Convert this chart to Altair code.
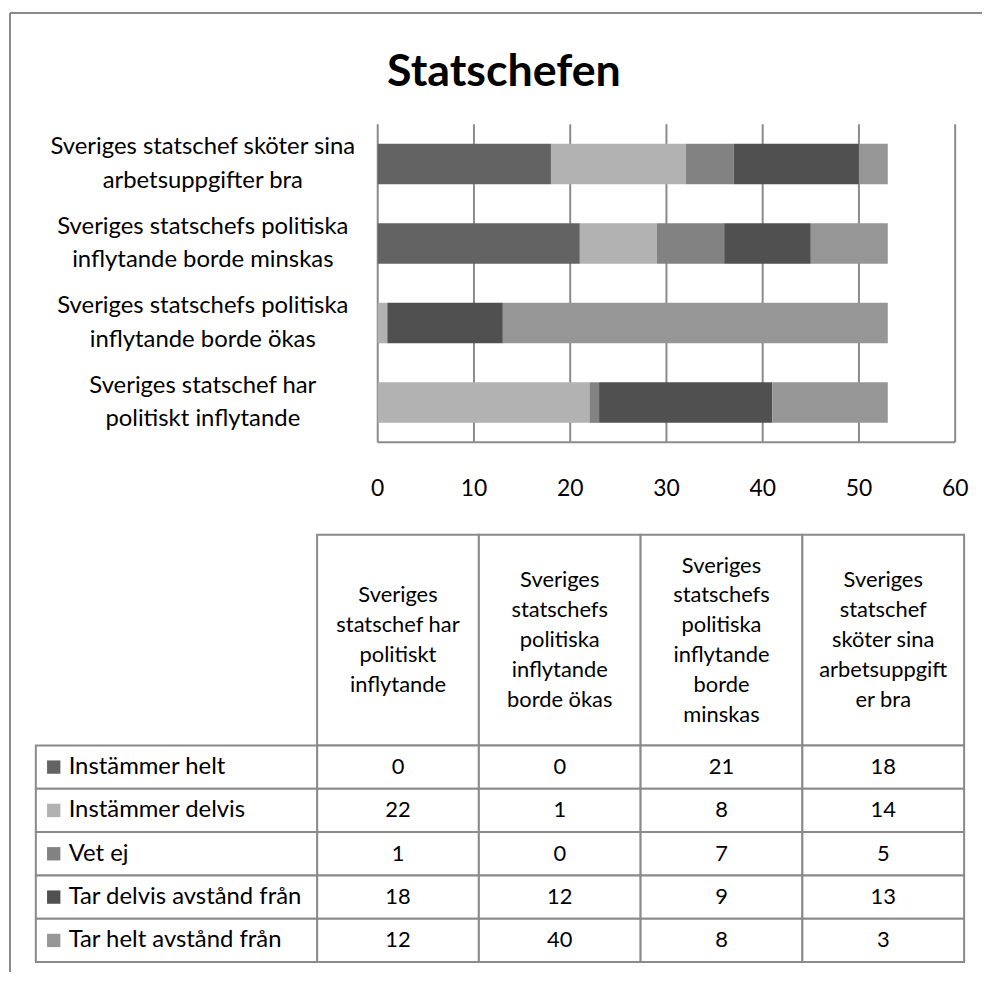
import altair as alt
import pandas as pd

# ---------------- data ----------------
questions = [
    "Sveriges statschef har politiskt inflytande",
    "Sveriges statschefs politiska inflytande borde ökas",
    "Sveriges statschefs politiska inflytande borde minskas",
    "Sveriges statschef sköter sina arbetsuppgifter bra",
]
question_bar_labels = [
    "Sveriges statschef har\npolitiskt inflytande",
    "Sveriges statschefs politiska\ninflytande borde ökas",
    "Sveriges statschefs politiska\ninflytande borde minskas",
    "Sveriges statschef sköter sina\narbetsuppgifter bra",
]
question_header_labels = [
    "Sveriges\nstatschef har\npolitiskt\ninflytande",
    "Sveriges\nstatschefs\npolitiska\ninflytande\nborde ökas",
    "Sveriges\nstatschefs\npolitiska\ninflytande\nborde\nminskas",
    "Sveriges\nstatschef\nsköter sina\narbetsuppgift\ner bra",
]
answers = [
    "Instämmer helt",
    "Instämmer delvis",
    "Vet ej",
    "Tar delvis avstånd från",
    "Tar helt avstånd från",
]
colors = ["#636363", "#b2b2b2", "#828282", "#505050", "#969696"]

instammer_helt = [0, 0, 21, 18]
instammer_delvis = [22, 1, 8, 14]
vet_ej = [1, 0, 7, 5]
tar_delvis_avstand = [18, 12, 9, 13]
tar_helt_avstand = [12, 40, 8, 3]
series = [instammer_helt, instammer_delvis, vet_ej, tar_delvis_avstand, tar_helt_avstand]

tick_values = [0, 10, 20, 30, 40, 50, 60]
title_text = "Statschefen"

# ---------------- tables ----------------
rows = []
for ai, (a, vals) in enumerate(zip(answers, series)):
    for q, v in zip(questions, vals):
        rows.append({"answer": a, "aorder": ai, "question": q, "value": v})
df = pd.DataFrame(rows)
qdf = pd.DataFrame({"question": questions, "label": question_bar_labels,
                    "header": question_header_labels, "row": "header"})
qdf["nlines"] = qdf["header"].str.count("\n") + 1
tdf = pd.DataFrame({"tick": tick_values, "tlabel": [str(t) for t in tick_values]})
ldf = pd.DataFrame({"answer": answers, "col": "label"})
one = pd.DataFrame({"f": [0]})

# ---------------- style ----------------
W, H = 978, 965
FONT = "Lato"
GRID = "#8a8a8a"
LABEL_LH = 34
HEAD_LH = 30

color_scale = alt.Scale(domain=answers, range=colors)

x_bar = alt.Scale(domain=[0, 60], range=[370, 951], nice=False, zero=False)
y_bar = alt.Scale(domain=questions[::-1], range=[112, 432], paddingInner=0.49, paddingOuter=0.245)
y_grid = alt.Scale(domain=[0, 1], range=[112, 432], nice=False, zero=False)

x_tab = alt.Scale(domain=questions, range=[309, 960], paddingInner=0, paddingOuter=0)
y_head = alt.Scale(domain=["header"], range=[525, 737], paddingInner=0, paddingOuter=0)
y_body = alt.Scale(domain=answers, range=[737, 955], paddingInner=0, paddingOuter=0)
x_lab = alt.Scale(domain=["label"], range=[26, 309], paddingInner=0, paddingOuter=0)
x_lab_pt = alt.Scale(type="point", domain=["label"], range=[26, 309], padding=0, align=0)

# ---------------- bar chart ----------------
grid = alt.Chart(tdf).mark_rule(color=GRID, strokeWidth=2).encode(
    x=alt.X("tick:Q", scale=x_bar, axis=None),
    y=alt.YDatum(0, scale=y_grid, axis=None),
    y2=alt.Y2Datum(1),
)
baseline = alt.Chart(one).mark_rule(color=GRID, strokeWidth=2).encode(
    x=alt.XDatum(0, scale=x_bar, axis=None),
    x2=alt.X2Datum(60),
    y=alt.YDatum(1, scale=y_grid, axis=None),
)
tick_text = alt.Chart(tdf).mark_text(font=FONT, fontSize=23, color="black", baseline="middle", dy=47).encode(
    x=alt.X("tick:Q", scale=x_bar, axis=None),
    y=alt.YDatum(1, scale=y_grid, axis=None),
    text="tlabel:N",
)
bars = alt.Chart(df).mark_bar().encode(
    x=alt.X("value:Q", stack="zero", scale=x_bar, axis=None),
    y=alt.Y("question:N", scale=y_bar, axis=None),
    color=alt.Color("answer:N", scale=color_scale, legend=None),
    order=alt.Order("aorder:Q"),
)
qlabels = alt.Chart(qdf).mark_text(
    font=FONT, fontSize=24, color="black", align="center", baseline="middle",
    lineBreak="\n", lineHeight=LABEL_LH, dx=-176, dy=-LABEL_LH / 2,
).encode(
    x=alt.XDatum(0, scale=x_bar, axis=None),
    y=alt.Y("question:N", scale=y_bar, axis=None),
    text="label:N",
)

# ---------------- data table ----------------
cell = dict(fill="white", stroke=GRID, strokeWidth=2)
head_cells = alt.Chart(qdf).mark_rect(**cell).encode(
    x=alt.X("question:N", scale=x_tab, axis=None),
    y=alt.Y("row:N", scale=y_head, axis=None),
)
head_texts = []
for n in sorted(qdf["nlines"].unique()):
    head_texts.append(
        alt.Chart(qdf).transform_filter(alt.datum.nlines == int(n)).mark_text(
            font=FONT, fontSize=22, color="black", align="center", baseline="middle",
            lineBreak="\n", lineHeight=HEAD_LH, dy=-(int(n) - 1) * HEAD_LH / 2,
        ).encode(
            x=alt.X("question:N", scale=x_tab, axis=None),
            y=alt.Y("row:N", scale=y_head, axis=None),
            text="header:N",
        )
    )
body_cells = alt.Chart(df).mark_rect(**cell).encode(
    x=alt.X("question:N", scale=x_tab, axis=None),
    y=alt.Y("answer:N", scale=y_body, axis=None),
)
body_text = alt.Chart(df).mark_text(font=FONT, fontSize=22, color="black", baseline="middle").encode(
    x=alt.X("question:N", scale=x_tab, axis=None),
    y=alt.Y("answer:N", scale=y_body, axis=None),
    text="value:Q",
)
lab_cells = alt.Chart(ldf).mark_rect(**cell).encode(
    x=alt.X("col:N", scale=x_lab, axis=None),
    y=alt.Y("answer:N", scale=y_body, axis=None),
)
lab_squares = alt.Chart(ldf).mark_point(shape="square", filled=True, opacity=1, size=180, xOffset=18).encode(
    x=alt.X("col:N", scale=x_lab_pt, axis=None),
    y=alt.Y("answer:N", scale=y_body, axis=None),
    color=alt.Color("answer:N", scale=color_scale, legend=None),
)
lab_text = alt.Chart(ldf).mark_text(font=FONT, fontSize=24, color="black", align="left", baseline="middle", dx=33).encode(
    x=alt.X("col:N", scale=x_lab_pt, axis=None),
    y=alt.Y("answer:N", scale=y_body, axis=None),
    text="answer:N",
)

# ---------------- outer frame (top and left edges) ----------------
frame_top = alt.Chart(one).mark_rule(color=GRID, strokeWidth=2).encode(
    x=alt.value(0), x2=alt.value(W), y=alt.value(0)
)
frame_left = alt.Chart(one).mark_rule(color=GRID, strokeWidth=2).encode(
    x=alt.value(0), y=alt.value(0), y2=alt.value(H)
)

chart = alt.layer(
    frame_top, frame_left,
    grid, bars, baseline, tick_text, qlabels,
    head_cells, *head_texts, body_cells, body_text,
    lab_cells, lab_squares, lab_text,
).resolve_scale(
    x="independent", y="independent"
).properties(
    width=W, height=H,
    autosize=alt.AutoSizeParams(type="none"),
    padding={"left": 2, "top": 2, "right": 0, "bottom": 0},
    title=alt.TitleParams(title_text, font=FONT, fontSize=45, fontWeight="bold",
                          color="black", anchor="middle", frame="group", offset=-84, dx=8),
).configure_view(stroke=None)

chart.save("out.html", embed_options={"renderer": "svg", "actions": False})
